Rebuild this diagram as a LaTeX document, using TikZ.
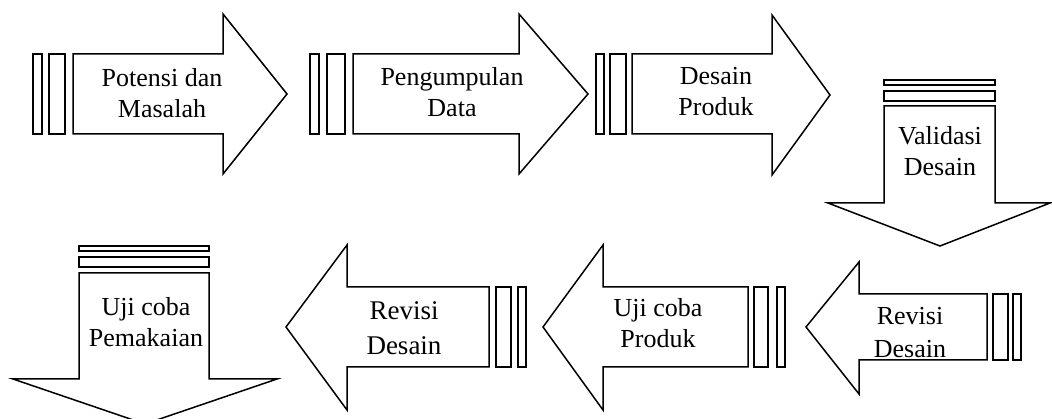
\documentclass[tikz,border=0pt]{standalone}
\usepackage{fontspec}
\setmainfont{Liberation Serif}
\usetikzlibrary{positioning}
\tikzstyle{panah} = [draw=black, line width=1.5pt, fill=white, line join=miter]
\tikzstyle{palang} = [draw=black, line width=1.5pt, fill=white]
\tikzstyle{teks} = [align=center, inner sep=0pt, font=\fontsize{26}{31}\selectfont]

\begin{document}
\begin{tikzpicture}[x=1pt, y=-1pt]
\useasboundingbox (0,0) rectangle (1052,419);
\clip (0,0) rectangle (1052,419);

% Potensi dan Masalah
\draw [palang] (33,54) rectangle (42,134);
\draw [palang] (49,54) rectangle (65,134);
\draw [panah] (73,54) -- (223,54) -- (223,14) -- (287,94) -- (223,174) -- (223,134) -- (73,134) -- cycle;
\node (potensi) [teks] at (162,93) {Potensi dan\\Masalah};

% Pengumpulan Data
\draw [palang] (310,54) rectangle (319,134);
\draw [palang] (327,54) rectangle (345,134);
\draw [panah] (353,54) -- (519,54) -- (519,14) -- (588,94) -- (519,174) -- (519,134) -- (353,134) -- cycle;
\node (data) [teks] at (452,92) {Pengumpulan\\Data};

% Desain Produk
\draw [palang] (596,54) rectangle (604,134);
\draw [palang] (610,54) rectangle (626,134);
\draw [panah] (632,54) -- (772,54) -- (772,15) -- (830,95) -- (772,175) -- (772,134) -- (632,134) -- cycle;
\node (desain) [teks] at (716,92) {Desain\\Produk};

% Validasi Desain
\draw [palang] (884,80) rectangle (995,85);
\draw [palang] (884,91) rectangle (995,101);
\draw [panah] (884,106) -- (884,203) -- (828,203) -- (940,246) -- (1050,203) -- (995,203) -- (995,106) -- cycle;
\node (validasi) [teks] at (940,151) {Validasi\\Desain};

% Revisi Desain (kanan)
\draw [palang] (993,294) rectangle (1008,360);
\draw [palang] (1013,294) rectangle (1021,360);
\draw [panah] (987,294) -- (859,294) -- (859,262) -- (806,327) -- (859,394) -- (859,360) -- (987,360) -- cycle;
\node (revisi1) [teks, font=\fontsize{26}{33}\selectfont] at (910,333) {Revisi\\Desain};

% Uji coba Produk
\draw [palang] (754,287) rectangle (768,367);
\draw [palang] (777,287) rectangle (785,367);
\draw [panah] (748,287) -- (603,287) -- (603,245) -- (543,327) -- (603,410) -- (603,367) -- (748,367) -- cycle;
\node (ujiproduk) [teks] at (658,323) {Uji coba\\Produk};

% Revisi Desain (tengah)
\draw [palang] (496,287) rectangle (511,367);
\draw [palang] (518,287) rectangle (526,367);
\draw [panah] (489,287) -- (347,287) -- (347,245) -- (286,327) -- (347,410) -- (347,367) -- (489,367) -- cycle;
\node (revisi2) [teks, font=\fontsize{27}{35}\selectfont] at (404,328) {Revisi\\Desain};

% Uji coba Pemakaian
\draw [palang] (79,246) rectangle (209,251);
\draw [palang] (79,257) rectangle (209,267);
\draw [panah] (79,273) -- (79,379) -- (13,379) -- (145,424) -- (277,379) -- (209,379) -- (209,273) -- cycle;
\node (ujipakai) [teks] at (146,322) {Uji coba\\Pemakaian};

\end{tikzpicture}
\end{document}
